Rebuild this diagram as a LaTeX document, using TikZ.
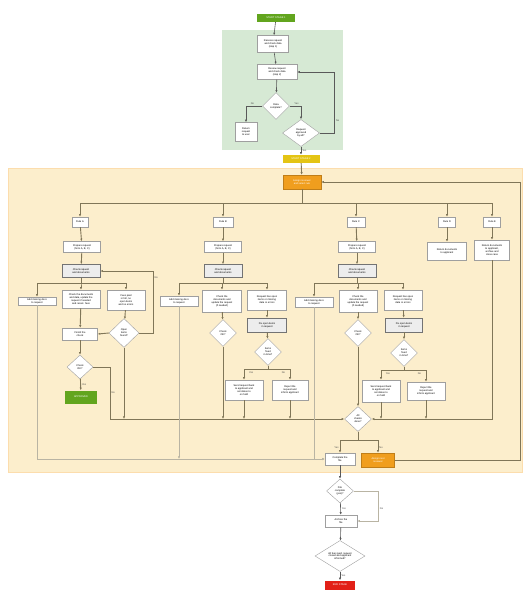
\documentclass[tikz,border=0pt]{standalone}
\usepackage{fontspec}
\setmainfont{Liberation Sans}
\usetikzlibrary{arrows.meta,positioning,shapes.geometric}
\definecolor{lnc}{RGB}{128,118,88}
\definecolor{bggreen}{RGB}{214,233,212}
\definecolor{bgorange}{RGB}{252,238,204}
\definecolor{okgreen}{RGB}{98,165,30}
\definecolor{stageyellow}{RGB}{228,196,20}
\definecolor{taskorange}{RGB}{240,158,30}
\definecolor{stopred}{RGB}{226,32,24}
\begin{document}
\begin{tikzpicture}[x=1pt,y=-1pt,font=\fontsize{2.5}{2.9}\selectfont,>={Latex[length=2.6pt,width=2.2pt]},
box/.style={draw=gray!75,fill=white,minimum width=38pt,minimum height=10pt,align=center,inner sep=0.6pt},
gbox/.style={box,draw=gray!90!black,fill=gray!14,line width=0.6pt},
dia/.style={diamond,draw=gray!75,fill=white,aspect=1,minimum width=27pt,minimum height=27pt,inner sep=0pt,align=center},
term/.style={minimum width=38pt,minimum height=8pt,inner sep=0.5pt,text=white,align=center},
arr/.style={->,draw=lnc,line width=0.9pt},
lite/.style={->,draw=lnc!55,line width=0.5pt},
lbl/.style={text=gray!60!black,inner sep=0.5pt}]
\useasboundingbox (0,0) rectangle (523,590);
% stage backgrounds
\fill[bggreen] (222,30) rectangle (343,150);
\filldraw[fill=bgorange,draw=bgorange!85!orange] (8,168) rectangle (522,472);

% stage 1
\node[term,fill=okgreen] (start) at (276,18) {START STAGE 1};
\node[box,minimum height=17pt,minimum width=31pt] (b1) at (273,44) {Receive request\\and check data\\(step 1)};
\node[box,minimum height=15pt,minimum width=40pt] (b2) at (277,72) {Review request\\and check data\\(step 2)};
\node[dia] (d1) at (276,106) {Data\\complete?};
\node[box,minimum width=22pt,minimum height=19pt] (b3) at (246,132) {Return\\request\\to user};
\node[dia,minimum width=37pt] (d2) at (301,133) {Request\\approved\\by all?};
\node[term,fill=stageyellow,minimum width=37pt] (stage2) at (301,159) {START STAGE 2};
\draw[arr,draw=gray!70!black,line width=0.6pt] (start)--(b1);
\draw[arr,draw=gray!70!black,line width=0.6pt] (b1)--(b2);
\draw[arr,draw=gray!70!black,line width=0.6pt] (b2)--(d1);
\draw[arr,draw=gray!70!black,line width=0.6pt] (d1.west)-|node[lbl,pos=0.3,above=0.5pt]{No}(b3.north);
\draw[arr,draw=gray!70!black,line width=0.6pt] (d1.east)-|node[lbl,pos=0.3,above=0.5pt]{Yes}(d2.north);
\draw[arr,draw=gray!70!black,line width=0.6pt] (d2.east)-|++(15,-30)node[lbl,pos=0.7,right=0.5pt]{No}|-(b2.east);
\draw[arr,draw=gray!70!black,line width=0.6pt] (d2.south)--node[lbl,right=0.5pt]{Yes}(stage2);

% stage 2 head
\node[box,fill=taskorange,draw=taskorange!80!black,text=white,minimum height=14pt] (o1) at (302,182) {Assign reviewer\\and select rule};
\draw[arr] (stage2)--(o1);
\node[box,minimum width=16pt] (r1) at (80,222) {Rule A};
\node[box,minimum width=20pt] (r2) at (223,222) {Rule B};
\node[box,minimum width=18pt] (r3) at (356,222) {Rule C};
\node[box,minimum width=17pt] (r4) at (447,222) {Rule D};
\node[box,minimum width=17pt] (r5) at (492,222) {Rule E};
\foreach \r in {r1,r2,r3,r4,r5}
  \draw[arr] (o1.south)--++(0,14)-|(\r.north);

\node[box,minimum width=37pt,minimum height=11pt] (s1) at (82,247) {Prepare request\\(form A, B, C)};
\node[box,minimum width=37pt,minimum height=11pt] (s2) at (223,247) {Prepare request\\(form A, B, C)};
\node[box,minimum width=37pt,minimum height=11pt] (s3) at (357,247) {Prepare request\\(form A, B, C)};
\node[box,minimum width=39pt,minimum height=18pt] (s4) at (447,251) {Return documents\\to applicant};
\node[box,minimum width=35pt,minimum height=20pt] (s5) at (492,250) {Return documents\\to applicant,\\archive and\\close case};
\node[gbox,minimum height=13pt] (t1) at (81,271) {Check request\\and documents};
\node[gbox,minimum height=13pt] (t2) at (223,271) {Check request\\and documents};
\node[gbox,minimum height=13pt] (t3) at (357,271) {Check request\\and documents};
\foreach \a/\b in {r1/s1,r2/s2,r3/s3,r4/s4,r5/s5,s1/t1,s2/t2,s3/t3}
  \draw[arr] (\a)--(\b);

% rule A
\node[box,minimum height=8pt] (a1) at (37,301) {Add missing docs\\to request};
\node[box,minimum height=18pt] (a2) at (81,299) {Check the documents\\and data, update the\\request if needed\\and recalc. fees};
\node[box,minimum height=20pt] (a3) at (126,300) {Fees paid\\in full, no\\open items\\and no errors};
\node[box,minimum width=35pt,minimum height=12pt] (p1) at (80,334) {Finish the\\check};
\node[dia,minimum width=30pt,minimum height=29pt] (dd1) at (124,333) {Open\\items\\found?};
\node[dia,minimum width=26pt,minimum height=24pt] (dq1) at (80,367) {Check\\OK?};
\node[term,fill=okgreen,minimum width=32pt,minimum height=13pt] (g1) at (81,397) {APPROVED};
\foreach \c in {a1,a2,a3}
  \draw[arr] (t1.south)--++(0,6)-|(\c.north);
\draw[arr] (a2)--(p1);
\draw[arr] (a3)--(dd1);
\draw[arr] (dd1.west)--(p1.east);
\draw[arr] (dd1.east)--++(14,0)|-node[lbl,pos=0.45,right=0.5pt]{No}(t1.east);
\draw[arr] (p1)--(dq1);
\draw[arr] (dq1)--node[lbl,right=0.5pt]{Yes}(g1);

% rule B
\node[box,minimum height=10pt] (c1) at (179,301) {Add missing docs\\to request};
\node[box,minimum width=39pt,minimum height=22pt] (c2) at (222,301) {Check the\\documents and\\update the request\\(if needed)};
\node[box,minimum width=39pt,minimum height=20pt] (c3) at (267,300) {Request has open\\items or missing\\data or errors};
\node[dia] (cd2) at (223,333) {Check\\OK?};
\node[gbox,minimum width=39pt,minimum height=14pt] (f2) at (267,325) {Fix open items\\in request};
\node[dia] (fd2) at (268,352) {Items\\fixed\\in time?};
\node[box,minimum height=20pt] (g2) at (244,390) {Send request back\\to applicant and\\set status to\\on hold};
\node[box,minimum width=36pt,minimum height=20pt] (h2) at (290,390) {Reject the\\request and\\inform applicant};
\foreach \c in {c1,c2,c3}
  \draw[arr] (t2.south)--++(0,6)-|(\c.north);
\draw[arr] (c2)--(cd2);
\draw[arr] (c3)--(f2);
\draw[arr] (f2)--(fd2);
\draw[arr] (fd2.south)--++(0,4)-|node[lbl,pos=0.35,below=1pt]{Yes}(g2.north);
\draw[arr] (fd2.south)--++(0,4)-|node[lbl,pos=0.35,below=1pt]{No}(h2.north);

% rule C
\node[box,minimum height=10pt] (e1) at (314,302) {Add missing docs\\to request};
\node[box,minimum height=22pt] (e2) at (358,301) {Check the\\documents and\\update the request\\(if needed)};
\node[box,minimum height=20pt] (e3) at (403,300) {Request has open\\items or missing\\data or errors};
\node[dia] (ed3) at (358,333) {Check\\OK?};
\node[gbox,minimum width=37pt,minimum height=14pt] (k3) at (404,325) {Fix open items\\in request};
\node[dia] (kd3) at (404,353) {Items\\fixed\\in time?};
\node[box,minimum height=22pt] (g3) at (381,391) {Send request back\\to applicant and\\set status to\\on hold};
\node[box,minimum height=18pt] (h3) at (426,391) {Reject the\\request and\\inform applicant};
\foreach \c in {e1,e2,e3}
  \draw[arr] (t3.south)--++(0,6)-|(\c.north);
\draw[arr] (e3)--(k3);
\draw[arr] (k3)--(kd3);
\draw[arr] (e2)--(ed3);
\draw[arr] (kd3.south)--++(0,4)-|node[lbl,pos=0.35,below=1pt]{Yes}(g3.north);
\draw[arr] (kd3.south)--++(0,4)-|node[lbl,pos=0.35,below=1pt]{No}(h3.north);

% joining
\node[dia,minimum width=27pt,minimum height=25pt] (cd) at (358,419) {All\\checks\\done?};
\node[box,minimum width=30pt,minimum height=12pt] (i1) at (340,459) {Complete the\\file};
\node[box,fill=taskorange,draw=taskorange!80!black,text=white,minimum width=33pt,minimum height=14pt] (j1) at (378,460) {Assign next\\reviewer};
\draw[arr] (ed3)--(cd);
\draw[arr,line width=0.7pt] (dq1.east)--++(17,0)|-node[lbl,pos=0.25,right=0.5pt]{No}(cd.west);
\draw[arr,line width=0.7pt] (s5.south)|-(cd.east);
\foreach \n in {dd1,cd2,g2,h2,g3,h3}
  \draw[arr] (\n.south)--(\n.south|-cd.west);
\draw[lite] (a1.south)|-(i1.west);
\draw[lite] (e1.south)|-(i1.west);
\draw[lite] (c1.south)--(c1.south|-i1.west);
\draw[arr] (cd.south)--++(0,9)-|node[lbl,pos=0.8,left=0.5pt]{Yes}(i1.north);
\draw[arr] (cd.south)--++(0,9)-|node[lbl,pos=0.8,right=0.5pt]{No}(j1.north);
\draw[arr] (j1.east)--++(126,0)|-(o1.east);

% closing
\node[dia,minimum width=27pt,minimum height=24pt] (ld) at (340,491) {File\\complete\\(yes)?};
\node[box,minimum width=32pt,minimum height=12pt] (m1) at (341,521) {Archive the\\file};
\node[dia,minimum width=50pt,minimum height=19pt] (nd) at (340,556) {All fees paid, request\\closed and applicant\\informed?};
\node[term,fill=stopred,minimum width=30pt,minimum height=9pt] (stop) at (340,585) {END STAGE};
\draw[arr,draw=gray!70!black,line width=0.6pt] (i1)--(ld);
\draw[arr,draw=gray!70!black,line width=0.6pt] (ld)--node[lbl,right=0.5pt]{Yes}(m1);
\draw[lite] (ld.east)--++(25,0)|-node[lbl,pos=0.3,right=0.5pt]{No}(m1.east);
\draw[arr,draw=gray!70!black,line width=0.6pt] (m1)--(nd);
\draw[arr,draw=gray!70!black,line width=0.6pt] (nd)--node[lbl,right=0.5pt]{Yes}(stop);
\end{tikzpicture}
\end{document}
